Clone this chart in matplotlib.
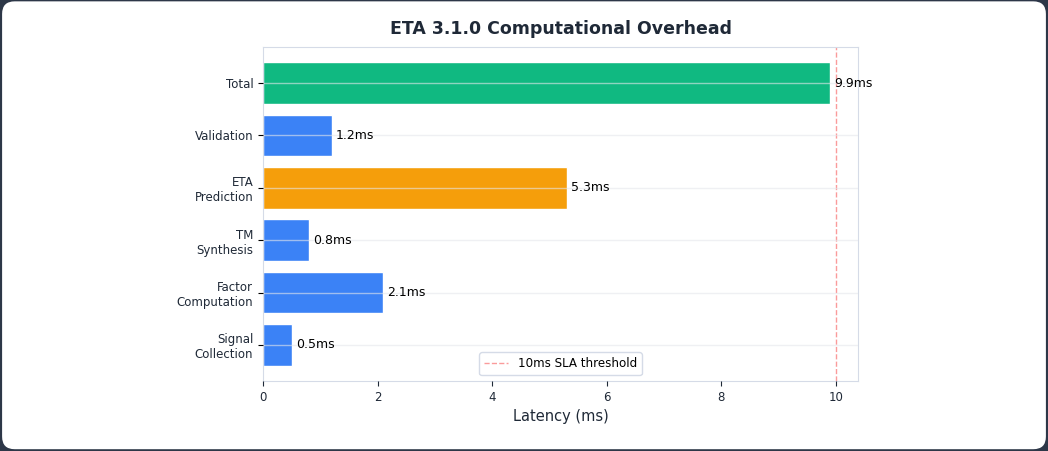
import matplotlib.pyplot as plt
from matplotlib.patches import FancyBboxPatch

stages = ["Signal\nCollection", "Factor\nComputation", "TM\nSynthesis",
          "ETA\nPrediction", "Validation", "Total"]
latency_ms = [0.5, 2.1, 0.8, 5.3, 1.2, 9.9]
bar_colors = ["#3b82f6", "#3b82f6", "#3b82f6", "#f59e0b", "#3b82f6", "#10b981"]
sla_ms = 10

fig = plt.figure(figsize=(10.48, 4.51), dpi=100)
fig.patch.set_facecolor("#2d3748")
card = FancyBboxPatch((0.002, 0.004), 0.996, 0.993, boxstyle="round,pad=0,rounding_size=0.012",
                      transform=fig.transFigure, facecolor="white", edgecolor="none",
                      mutation_aspect=10.48 / 4.51, zorder=-10)
fig.patches.append(card)

ax = fig.add_axes([263 / 1048, 1 - 381 / 451, (858 - 263) / 1048, (381 - 47) / 451])
ax.set_facecolor("white")
ax.set_axisbelow(False)
ax.grid(axis="y", color="#e5e7eb", alpha=0.6, linewidth=1)
bars = ax.barh(range(len(stages)), latency_ms, height=0.8, color=bar_colors,
               edgecolor="white", linewidth=1, alpha=1.0, zorder=1)
for i, v in enumerate(latency_ms):
    ax.text(v + 0.07, i, f"{v}ms", va="center", ha="left", fontsize=9, color="black", zorder=3)

ax.axvline(sla_ms, color="#f87171", linestyle="--", linewidth=1, alpha=0.7,
           label="10ms SLA threshold", zorder=2)
ax.set_yticks(range(len(stages)))
ax.set_yticklabels(stages, fontsize=8.5, color="#1f2937")
ax.set_xlim(0, 10.39)
ax.tick_params(axis="x", labelsize=8.5, colors="#1f2937")
for s in ax.spines.values():
    s.set_color("#d5dbe7")
ax.set_xlabel("Latency (ms)", fontsize=10.5, color="#1f2937")
ax.set_title("ETA 3.1.0 Computational Overhead", fontsize=12.5, fontweight="bold",
             color="#1f2937", pad=9)
leg = ax.legend(loc="lower center", fontsize=8.6, framealpha=1)
leg.get_frame().set_edgecolor("#d5dbe7")

fig.savefig("out.png", dpi=100, facecolor=fig.get_facecolor())
